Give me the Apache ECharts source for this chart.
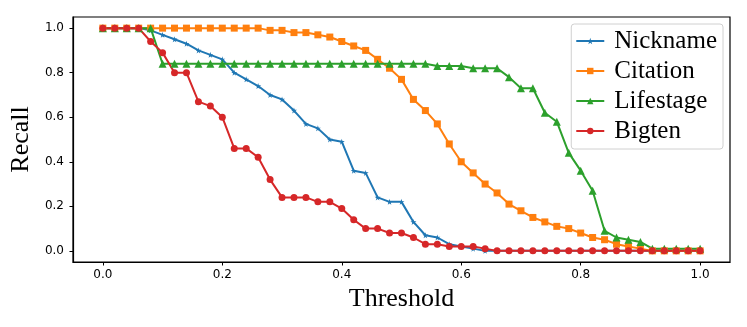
<!DOCTYPE html>
<html>
<head>
<meta charset="utf-8">
<script src="https://cdn.jsdelivr.net/npm/echarts@6/dist/echarts.min.js"></script>
<style>
  html, body { margin: 0; padding: 0; background: #fff; }
  #chart { width: 747px; height: 327px; }
</style>
</head>
<body>
<div id="chart"></div>
<script>
var thresholds = [0, 0.02, 0.04, 0.06, 0.08, 0.1, 0.12, 0.14, 0.16, 0.18,
  0.2, 0.22, 0.24, 0.26, 0.28, 0.3, 0.32, 0.34, 0.36, 0.38,
  0.4, 0.42, 0.44, 0.46, 0.48, 0.5, 0.52, 0.54, 0.56, 0.58,
  0.6, 0.62, 0.64, 0.66, 0.68, 0.7, 0.72, 0.74, 0.76, 0.78,
  0.8, 0.82, 0.84, 0.86, 0.88, 0.9, 0.92, 0.94, 0.96, 0.98, 1.0];

var nickname = [1, 1, 1, 1, 0.99, 0.97, 0.95, 0.93, 0.90, 0.88,
  0.86, 0.80, 0.77, 0.74, 0.70, 0.68, 0.63, 0.57, 0.55, 0.50,
  0.49, 0.36, 0.35, 0.24, 0.22, 0.22, 0.13, 0.07, 0.06, 0.03,
  0.02, 0.01, 0, 0, 0, 0, 0, 0, 0, 0,
  0, 0, 0, 0, 0, 0, 0, 0, 0, 0, 0];

var citation = [1, 1, 1, 1, 1, 1, 1, 1, 1, 1,
  1, 1, 1, 1, 0.99, 0.99, 0.98, 0.98, 0.97, 0.96,
  0.94, 0.92, 0.90, 0.86, 0.82, 0.77, 0.68, 0.63, 0.57, 0.48,
  0.40, 0.35, 0.30, 0.26, 0.21, 0.18, 0.15, 0.13, 0.11, 0.10,
  0.08, 0.06, 0.05, 0.03, 0.02, 0.01, 0, 0, 0, 0, 0];

var lifestage = [1, 1, 1, 1, 1, 0.84, 0.84, 0.84, 0.84, 0.84,
  0.84, 0.84, 0.84, 0.84, 0.84, 0.84, 0.84, 0.84, 0.84, 0.84,
  0.84, 0.84, 0.84, 0.84, 0.84, 0.84, 0.84, 0.84, 0.83, 0.83,
  0.83, 0.82, 0.82, 0.82, 0.78, 0.73, 0.73, 0.62, 0.58, 0.44,
  0.36, 0.27, 0.09, 0.06, 0.05, 0.04, 0.01, 0.01, 0.01, 0.01, 0.01];

var bigten = [1, 1, 1, 1, 0.94, 0.89, 0.80, 0.80, 0.67, 0.65,
  0.60, 0.46, 0.46, 0.42, 0.32, 0.24, 0.24, 0.24, 0.22, 0.22,
  0.19, 0.14, 0.10, 0.10, 0.08, 0.08, 0.06, 0.03, 0.03, 0.02,
  0.02, 0.02, 0.01, 0, 0, 0, 0, 0, 0, 0,
  0, 0, 0, 0, 0, 0, 0, 0, 0, 0, 0];

var tickValues = [0, 0.2, 0.4, 0.6, 0.8, 1.0];

var starPath = 'path://M50,0 L61,35 L98,35 L68,57 L79,91 L50,70 L21,91 L32,57 L2,35 L39,35 Z';

function pairs(ys) {
  return thresholds.map(function(x, i) { return [x, ys[i]]; });
}

function makeSeries(name, ys, color, symbol, size) {
  return {
    name: name,
    type: 'line',
    data: pairs(ys),
    color: color,
    symbol: symbol,
    symbolSize: size,
    showAllSymbol: true,
    animation: false,
    lineStyle: { width: 2, color: color },
    itemStyle: { color: color, opacity: 1 }
  };
}

var tickFont = { fontFamily: 'DejaVu Sans', fontSize: 12, color: '#000' };
var nameFont = { fontFamily: 'Liberation Serif', fontSize: 26, color: '#000' };

var chart = echarts.init(document.getElementById('chart'), null, { renderer: 'canvas' });
chart.setOption({
  backgroundColor: '#fff',
  animation: false,
  grid: { left: 72, right: 17, top: 17, bottom: 65, show: true, borderColor: '#000', borderWidth: 1.2, backgroundColor: 'transparent' },
  legend: {
    orient: 'vertical',
    right: 24,
    top: 24,
    padding: [4, 6, 5, 4],
    itemGap: 4,
    itemWidth: 28,
    itemHeight: 8,
    backgroundColor: 'rgba(255,255,255,0.8)',
    borderColor: '#d0d0d0',
    borderWidth: 1,
    borderRadius: 3,
    textStyle: { fontFamily: 'Liberation Serif', fontSize: 25, color: '#000', lineHeight: 26, padding: [0, 0, 0, 5] },
    data: ['Nickname', 'Citation', 'Lifestage', 'Bigten']
  },
  xAxis: {
    type: 'value',
    min: -0.05,
    max: 1.05,
    name: 'Threshold',
    nameLocation: 'middle',
    nameGap: 24,
    nameTextStyle: nameFont,
    splitLine: { show: false },
    axisLine: { onZero: false, lineStyle: { color: '#000', width: 1.2 } },
    axisTick: { show: true, length: 3.5, customValues: tickValues, lineStyle: { color: '#000' } },
    axisLabel: Object.assign({ margin: 7, customValues: tickValues, formatter: function(v) { return v.toFixed(1); } }, tickFont)
  },
  yAxis: {
    type: 'value',
    min: -0.05,
    max: 1.05,
    name: 'Recall',
    nameLocation: 'middle',
    nameGap: 34,
    nameTextStyle: nameFont,
    splitLine: { show: false },
    axisLine: { show: true, onZero: false, lineStyle: { color: '#000', width: 1.2 } },
    axisTick: { show: true, length: 3.5, customValues: tickValues, lineStyle: { color: '#000' } },
    axisLabel: Object.assign({ margin: 9, customValues: tickValues, formatter: function(v) { return v.toFixed(1); } }, tickFont)
  },
  series: [
    makeSeries('Nickname', nickname, '#1f77b4', starPath, 6),
    makeSeries('Citation', citation, '#ff7f0e', 'rect', 7),
    makeSeries('Lifestage', lifestage, '#2ca02c', 'triangle', 8),
    makeSeries('Bigten', bigten, '#d62728', 'circle', 7)
  ]
});
</script>
</body>
</html>
